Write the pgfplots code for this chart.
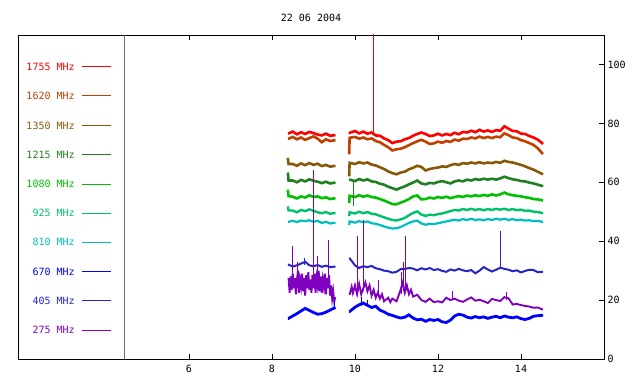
\documentclass[border=0pt]{standalone}
\usepackage{fontspec}
\setmainfont{DejaVu Sans Mono}
\usepackage{pgfplots}
\pgfplotsset{compat=1.18}
\usepackage{pgfplotstable}

\definecolor{cA}{RGB}{255,0,0}
\definecolor{cB}{RGB}{192,64,0}
\definecolor{cC}{RGB}{136,88,8}
\definecolor{cD}{RGB}{32,128,32}
\definecolor{cE}{RGB}{0,192,0}
\definecolor{cF}{RGB}{0,192,110}
\definecolor{cG}{RGB}{0,190,190}
\definecolor{cH}{RGB}{0,0,255}
\definecolor{cI}{RGB}{36,36,200}
\definecolor{cP}{RGB}{128,0,192}

\pgfplotstableread{
t a b c d e f g h i
8.38 76.6 74.8 68.3 63.3 57.5 51.8 46.6 32.0 13.8
8.40 76.6 74.8 66.2 60.6 55.3 50.4 46.6 32.0 13.8
8.50 77.2 75.4 66.2 60.6 55.1 50.4 46.9 31.4 14.6
8.60 76.3 74.6 65.6 60.0 54.5 49.8 46.5 31.8 15.4
8.70 77.0 75.2 66.4 60.8 55.2 50.6 47.0 32.4 16.3
8.80 76.4 74.4 65.8 60.3 54.8 50.2 46.8 33.0 17.2
8.90 77.1 75.0 66.5 61.0 55.6 50.8 47.1 31.8 16.5
9.00 76.7 75.6 65.9 60.5 55.0 50.3 46.6 31.5 15.8
9.10 76.2 74.8 66.3 60.2 55.2 49.8 46.9 31.9 15.2
9.20 75.9 73.6 65.5 59.7 54.6 49.5 46.2 31.3 15.4
9.30 76.5 74.6 65.9 60.2 54.9 49.9 46.6 31.7 15.9
9.40 75.8 74.0 65.3 59.6 54.3 49.3 46.0 31.2 16.6
9.53 76.0 74.3 65.6 59.9 54.6 49.6 46.3 31.4 17.5
9.70 nan nan nan nan nan nan nan nan nan
9.86 77.0 69.5 62.0 60.9 53.0 48.5 45.5 34.2 16.1
9.87 76.8 75.1 66.6 60.9 55.4 49.8 46.7 34.2 16.1
10.0 77.4 75.4 66.2 60.4 55.0 49.4 46.3 31.8 17.6
10.1 76.6 74.8 66.8 61.1 55.6 50.0 46.8 30.9 18.4
10.2 77.2 75.2 66.4 60.6 55.1 49.5 46.4 31.5 19.0
10.3 76.5 74.6 66.7 61.0 55.5 49.9 46.7 31.2 18.2
10.4 76.9 74.9 66.0 60.3 55.0 49.3 46.1 31.6 17.5
10.5 75.9 74.0 65.7 60.1 54.8 49.1 45.9 30.8 17.9
10.6 75.8 73.6 65.1 59.5 54.3 48.6 45.5 30.5 16.6
10.7 74.9 72.7 64.5 59.2 53.8 48.1 45.0 30.0 16.0
10.8 74.3 71.9 63.7 58.5 53.2 47.6 44.6 29.8 15.2
10.9 73.3 70.8 63.1 58.0 52.6 47.2 44.3 29.3 14.8
11.0 73.8 71.2 62.7 57.5 52.5 47.0 44.4 29.6 14.3
11.1 73.9 71.4 63.3 58.1 53.1 47.4 44.8 30.5 13.9
11.2 74.6 71.9 63.6 58.6 53.6 47.9 45.5 30.6 14.2
11.3 75.0 72.6 64.4 59.3 54.3 48.8 46.2 30.9 15.0
11.4 75.8 73.3 64.9 59.9 55.2 49.6 46.7 30.7 13.9
11.5 76.4 73.9 65.6 60.6 55.5 50.1 47.0 30.1 13.3
11.6 76.9 74.4 65.2 59.6 54.2 49.0 46.0 30.8 13.5
11.7 76.4 73.8 64.0 59.3 54.3 48.6 45.6 30.4 12.8
11.8 75.7 73.0 64.5 59.8 54.8 49.0 45.9 30.9 13.4
11.9 75.9 73.2 64.8 59.6 54.5 48.8 45.8 30.2 13.1
12.0 76.5 73.8 65.0 60.1 55.0 49.2 46.1 30.5 13.4
12.1 75.9 73.4 65.4 60.4 54.7 49.4 46.4 29.9 12.6
12.2 76.4 74.0 65.2 60.0 55.1 49.8 46.7 29.6 12.4
12.3 76.0 73.7 65.8 59.6 54.6 50.2 47.0 30.4 13.2
12.4 76.8 74.5 66.2 60.3 55.0 50.6 47.3 30.0 14.6
12.5 76.3 74.1 65.9 60.6 55.3 50.4 47.0 30.6 15.2
12.6 77.1 74.8 66.5 60.3 55.0 50.9 47.5 30.1 14.9
12.7 76.9 74.7 66.3 60.9 55.5 50.6 47.2 29.8 14.2
12.8 77.5 75.2 66.7 60.6 55.2 51.0 47.6 30.2 13.9
12.9 77.0 74.9 66.4 61.1 55.6 50.6 47.2 29.1 14.4
13.0 77.8 75.5 66.8 60.8 55.3 50.9 47.4 30.0 14.0
13.1 77.2 75.0 66.4 61.2 55.7 50.5 47.1 31.2 14.3
13.2 77.6 75.4 66.7 60.9 55.4 50.9 47.5 30.4 13.8
13.3 77.1 75.0 66.5 61.2 55.9 50.6 47.2 29.7 14.2
13.4 77.7 75.5 66.9 60.9 55.5 51.0 47.6 30.3 14.5
13.5 77.5 75.3 66.6 61.3 55.9 50.7 47.3 31.0 14.0
13.6 79.0 76.6 67.3 61.9 56.5 51.0 47.6 30.6 14.6
13.7 78.2 76.0 66.9 61.4 55.9 50.6 47.2 30.3 14.2
13.8 77.4 75.2 66.7 61.0 55.6 50.9 47.5 29.8 14.0
13.9 77.3 75.0 66.3 60.8 55.4 50.5 47.1 30.1 14.3
14.0 76.5 74.3 65.9 60.4 55.2 50.7 47.3 29.4 13.7
14.1 76.4 73.9 65.4 60.3 54.9 50.3 47.0 29.9 13.4
14.2 75.7 73.3 64.8 59.9 54.7 50.4 47.1 30.3 13.8
14.3 75.2 72.7 64.3 59.6 54.3 50.0 46.8 30.2 14.5
14.4 74.5 71.6 63.6 59.2 54.2 49.9 46.9 29.5 14.7
14.5 73.4 70.0 62.9 58.8 53.9 49.6 46.6 29.6 14.8
14.53 73.0 69.6 62.7 58.6 53.8 49.5 46.5 29.5 14.9
}\maintab

\pgfplotstableread{
t p
8.400 27.5
8.425 22.5
8.450 28.0
8.475 23.5
8.500 29.0
8.525 24.0
8.550 27.5
8.575 22.0
8.600 26.5
8.625 30.0
8.650 22.5
8.675 27.0
8.700 24.5
8.725 29.0
8.750 23.0
8.775 27.5
8.800 21.5
8.825 28.5
8.850 24.0
8.875 29.5
8.900 23.5
8.925 27.0
8.950 22.5
8.975 28.5
9.000 24.0
9.025 29.0
9.050 22.5
9.075 27.5
9.100 25.0
9.125 30.0
9.150 23.0
9.175 28.0
9.200 22.5
9.225 27.0
9.250 24.5
9.275 29.0
9.300 22.0
9.325 27.5
9.350 24.0
9.375 28.5
9.400 21.5
9.425 25.0
9.450 20.5
9.475 23.0
9.500 19.5
9.525 21.0
9.70 nan
9.87 21.8
9.92 24.5
9.95 22.4
10.0 25.0
10.05 22.0
10.1 25.5
10.15 22.0
10.2 24.0
10.25 26.0
10.3 23.0
10.35 25.0
10.4 21.5
10.45 23.5
10.5 20.8
10.55 22.5
10.6 20.5
10.65 22.0
10.7 19.6
10.8 20.8
10.85 19.3
10.9 20.5
11.0 19.6
11.05 21.5
11.1 23.5
11.15 26.0
11.2 22.5
11.25 25.0
11.3 22.0
11.35 23.5
11.4 21.2
11.5 21.8
11.6 20.0
11.7 19.4
11.8 20.5
11.9 19.3
12.0 19.6
12.1 19.2
12.2 20.8
12.3 20.0
12.4 20.5
12.5 19.8
12.6 19.4
12.7 20.2
12.8 20.9
12.9 19.8
13.0 20.1
13.1 19.6
13.2 19.0
13.3 20.4
13.4 20.0
13.5 19.7
13.6 21.0
13.7 20.6
13.8 18.5
13.9 18.7
14.0 18.3
14.1 18.0
14.2 17.8
14.3 17.4
14.4 17.5
14.5 16.9
14.53 16.8
}\purtab

\begin{document}
\begin{tikzpicture}
\useasboundingbox (-18bp,-25bp) rectangle (622bp,359bp);
\begin{axis}[
  at={(0,0)}, anchor=south west,
  scale only axis, width=586bp, height=324bp,
  xmin=1.88, xmax=16, ymin=0, ymax=110,
  axis line style={black, line width=0.9bp},
  xtick={6,8,10,12,14}, ytick={0,20,40,60,80,100},
  tick align=inside, major tick length=5bp,
  xtick pos=both, ytick pos=right, yticklabel pos=right,
  tick style={black, line width=0.8bp},
  ticklabel style={font=\fontsize{10bp}{12bp}\selectfont},
  xticklabel style={yshift=-3bp},
  /pgf/number format/assume math mode=true,
  every axis title/.style={at={(0.5,1)}, anchor=center, yshift=17bp, font=\fontsize{10bp}{12bp}\selectfont},
  title={22 06 2004},
  unbounded coords=jump,
]
% UT marker line
\addplot[color={rgb,255:red,110;green,110;blue,110}, line width=0.9bp] coordinates {(4.436,0) (4.436,110)};

% legend samples
\addplot[color=cA, line width=1bp] coordinates {(3.42,99.3) (4.12,99.3)};
\addplot[color=cB, line width=1bp] coordinates {(3.42,89.3) (4.12,89.3)};
\addplot[color=cC, line width=1bp] coordinates {(3.42,79.3) (4.12,79.3)};
\addplot[color=cD, line width=1bp] coordinates {(3.42,69.3) (4.12,69.3)};
\addplot[color=cE, line width=1bp] coordinates {(3.42,59.4) (4.12,59.4)};
\addplot[color=cF, line width=1bp] coordinates {(3.42,49.5) (4.12,49.5)};
\addplot[color=cG, line width=1bp] coordinates {(3.42,39.6) (4.12,39.6)};
\addplot[color=cH, line width=1bp] coordinates {(3.42,29.6) (4.12,29.6)};
\addplot[color=cI, line width=1bp] coordinates {(3.42,19.7) (4.12,19.7)};
\addplot[color=cP, line width=1bp] coordinates {(3.42,9.8) (4.12,9.8)};

\begin{scope}[every node/.style={anchor=east, inner sep=0pt, font=\fontsize{10bp}{12bp}\selectfont}]
\node[text=cA] at (axis cs:3.25,99.3) {1755 MHz};
\node[text=cB] at (axis cs:3.25,89.3) {1620 MHz};
\node[text=cC] at (axis cs:3.25,79.3) {1350 MHz};
\node[text=cD] at (axis cs:3.25,69.3) {1215 MHz};
\node[text=cE] at (axis cs:3.25,59.4) {1080 MHz};
\node[text=cF] at (axis cs:3.25,49.5) {925 MHz};
\node[text=cG] at (axis cs:3.25,39.6) {810 MHz};
\node[text=cH] at (axis cs:3.25,29.6) {670 MHz};
\node[text=cI] at (axis cs:3.25,19.7) {405 MHz};
\node[text=cP] at (axis cs:3.25,9.8) {275 MHz};
\end{scope}
\node[anchor=north, inner sep=0pt, font=\fontsize{10bp}{12bp}\selectfont] at (axis cs:4.3,-2.5) {UT};

% data series
\addplot[color=cH, line width=2.8bp] table[x=t, y=i] {\maintab};
\addplot[color=cI, line width=2.0bp] table[x=t, y=h] {\maintab};
\addplot[color=cG, line width=2.2bp] table[x=t, y=g] {\maintab};
\addplot[color=cF, line width=2.4bp] table[x=t, y=f] {\maintab};
\addplot[color=cE, line width=2.6bp] table[x=t, y=e] {\maintab};
\addplot[color=cD, line width=2.6bp] table[x=t, y=d] {\maintab};
\addplot[color=cC, line width=2.6bp] table[x=t, y=c] {\maintab};
\addplot[color=cB, line width=2.6bp] table[x=t, y=b] {\maintab};
\addplot[color=cA, line width=2.6bp] table[x=t, y=a] {\maintab};
\addplot[color=cP, line width=1.9bp] table[x=t, y=p] {\purtab};

% spikes
\addplot[color=cA, line width=1bp] coordinates {(10.45,76.5) (10.45,115)};
\addplot[color=cI, line width=1.1bp] coordinates {(13.51,30.5) (13.51,43.3) (13.51,nan) (8.78,32) (8.78,34.2)};
\addplot[color=cD, line width=1bp] coordinates {(9.97,60.5) (9.97,52)};
\addplot[color=cH, line width=1bp] coordinates {(10.15,18) (10.15,21) (10.15,nan) (9.5,17) (9.5,19.8) (9.5,nan) (10.3,17.8) (10.3,20.2)};
\addplot[color=cP, line width=1bp] coordinates {
 (8.49,26) (8.49,38.2) (8.49,nan)
 (9.0,24) (9.0,64) (9.0,nan)
 (9.35,26) (9.35,40.5) (9.35,nan)
 (10.07,22) (10.07,41.8) (10.07,nan)
 (10.21,23) (10.21,47.3) (10.21,nan)
 (11.22,24) (11.22,41.6) (11.22,nan)
 (10.57,21) (10.57,26.9) (10.57,nan)
 (11.12,22) (11.12,29.7) (11.12,nan)
 (11.17,23) (11.17,33) (11.17,nan)
 (9.1,25) (9.1,35) (9.1,nan)
 (8.62,24) (8.62,33) (8.62,nan)
 (12.34,20) (12.34,23.2) (12.34,nan)
 (13.65,20) (13.65,22.6)
};
\end{axis}
\end{tikzpicture}
\end{document}
